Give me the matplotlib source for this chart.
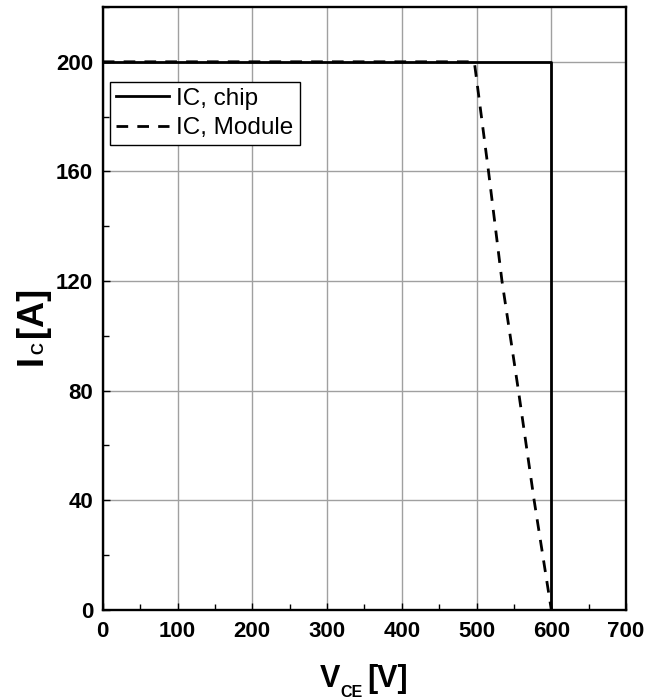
import matplotlib
matplotlib.use("Agg")
import matplotlib.pyplot as plt
from matplotlib.ticker import MultipleLocator
from matplotlib import font_manager as fm

plt.rcParams['font.family'] = ['Liberation Sans', 'DejaVu Sans']

# Data
chip_vce = [0, 600, 600]
chip_ic = [200, 200, 0]
module_vce = [0, 497, 516, 534, 556, 577, 600]
module_ic = [200, 200, 160, 120, 80, 40, 0]

x_ticks = [0, 100, 200, 300, 400, 500, 600, 700]
y_ticks = [0, 40, 80, 120, 160, 200]
series_labels = ['IC, chip', 'IC, Module']

avail = {f.name for f in fm.fontManager.ttflist}
narrow = 'Liberation Sans Narrow' in avail
xlab_family = ['Liberation Sans Narrow', 'Liberation Sans'] if narrow else ['Liberation Sans']
xlab_size = 26 if narrow else 22

fig = plt.figure(figsize=(6.59, 7.0), dpi=100)
ax = fig.add_axes([0.156, 0.129, 0.794, 0.861])

ax.plot(chip_vce, chip_ic, color='black', lw=2.0, label=series_labels[0], zorder=3)
ax.plot(module_vce, module_ic, color='black', lw=2.0, dashes=(4.2, 3.3),
        label=series_labels[1], zorder=3)

ax.set_xlim(0, 700)
ax.set_ylim(0, 220)
ax.set_xticks(x_ticks)
ax.set_yticks(y_ticks)
ax.xaxis.set_minor_locator(MultipleLocator(50))
ax.yaxis.set_minor_locator(MultipleLocator(20))
ax.grid(True, which='major', color='#a0a0a0', lw=1.0)
ax.set_axisbelow(True)

for s in ax.spines.values():
    s.set_linewidth(1.7)

ax.tick_params(which='both', direction='in', width=1.0, labelsize=16)
ax.tick_params(which='major', length=5)
ax.tick_params(which='minor', length=4)
ax.tick_params(axis='x', pad=8)
ax.tick_params(axis='y', pad=7)
for lab in ax.get_xticklabels() + ax.get_yticklabels():
    lab.set_fontweight('bold')

leg = ax.legend(loc='upper left', bbox_to_anchor=(0.013, 0.876), borderaxespad=0,
                fontsize=17.5, fancybox=False, framealpha=1, edgecolor='black',
                handlelength=2.2, handletextpad=0.3, borderpad=0.25, labelspacing=0.3)
leg.get_frame().set_linewidth(1.0)

renderer = fig.canvas.get_renderer()


def seq_label(pieces, center, base, vertical=False):
    """pieces: (text, fontsize, family, offset_px perpendicular, gap_px before)"""
    items = []
    for txt, size, fam, off, gap in pieces:
        t = fig.text(0, 0, txt, fontsize=size, fontweight='bold', family=fam,
                     transform=None, ha='left', va='baseline',
                     rotation=90 if vertical else 0, rotation_mode='anchor')
        bb = t.get_window_extent(renderer)
        length = bb.height if vertical else bb.width
        items.append((t, length, off, gap))
    total = sum(l + g for _, l, _, g in items)
    pos = center - total / 2
    for t, l, off, g in items:
        pos += g
        if vertical:
            t.set_position((base + off, pos))
        else:
            t.set_position((pos, base + off))
        pos += l


# x label: V_CE [V]
seq_label([('V', xlab_size, xlab_family, 0, 0),
           ('CE', 11.5, xlab_family, -10, 0),
           ('[V]', xlab_size, xlab_family, 0, 5)],
          center=364, base=13)

# y label: I_C [A]  (rotated, reading upwards)
seq_label([('I', 26, ['Liberation Sans'], 0, 0),
           ('C', 12, ['Liberation Sans'], 1.5, 1),
           ('[A]', 26, ['Liberation Sans'], 0, 5)],
          center=374, base=42, vertical=True)

fig.savefig('out.png', dpi=100)
